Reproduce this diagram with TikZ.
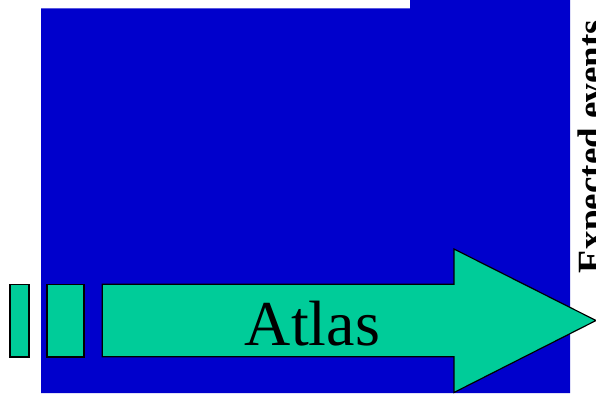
\documentclass[tikz,border=0pt]{standalone}
\usepackage{fontspec}
\setmainfont{Liberation Serif}
\usepackage{tikz}
\usetikzlibrary{positioning}

\definecolor{slideblue}{RGB}{0,0,204}
\definecolor{atlasgreen}{RGB}{0,204,153}

\begin{document}
\begin{tikzpicture}[
  x=1pt, y=-1pt,
  block/.style={draw=black, fill=atlasgreen, line width=1.6pt},
  bigarrow/.style={draw=black, fill=atlasgreen, line width=1.2pt, line join=miter},
  label/.style={inner sep=0pt, text=black}
]
\useasboundingbox (0,0) rectangle (596,393);
\clip (0,0) rectangle (596,393);

% --- Blue background panel ---
\fill[slideblue] (41,8.5) -- (410,8.5) -- (410,0) -- (570,0) -- (570,393) -- (41,393) -- cycle;

% --- Small blocks in front of the arrow ---
\draw[block] (9.7,284.3) rectangle (28.7,357);
\draw[block] (46.7,284.3) rectangle (84,357);

% --- Big arrow ---
\draw[bigarrow] (102.3,284.3) -- (454,284.3) -- (454,249) -- (596,320.5)
  -- (454,392.5) -- (454,356.7) -- (102.3,356.7) -- cycle;
\node[label, anchor=base, font=\fontsize{64}{70}\selectfont] (atlas) at (312.5,345.7) {Atlas};

% --- Side caption ---
\node[label, anchor=base west, rotate=90, font=\fontsize{37}{42}\selectfont\bfseries] (expected) at (603,274) {Expected events};

\end{tikzpicture}
\end{document}
